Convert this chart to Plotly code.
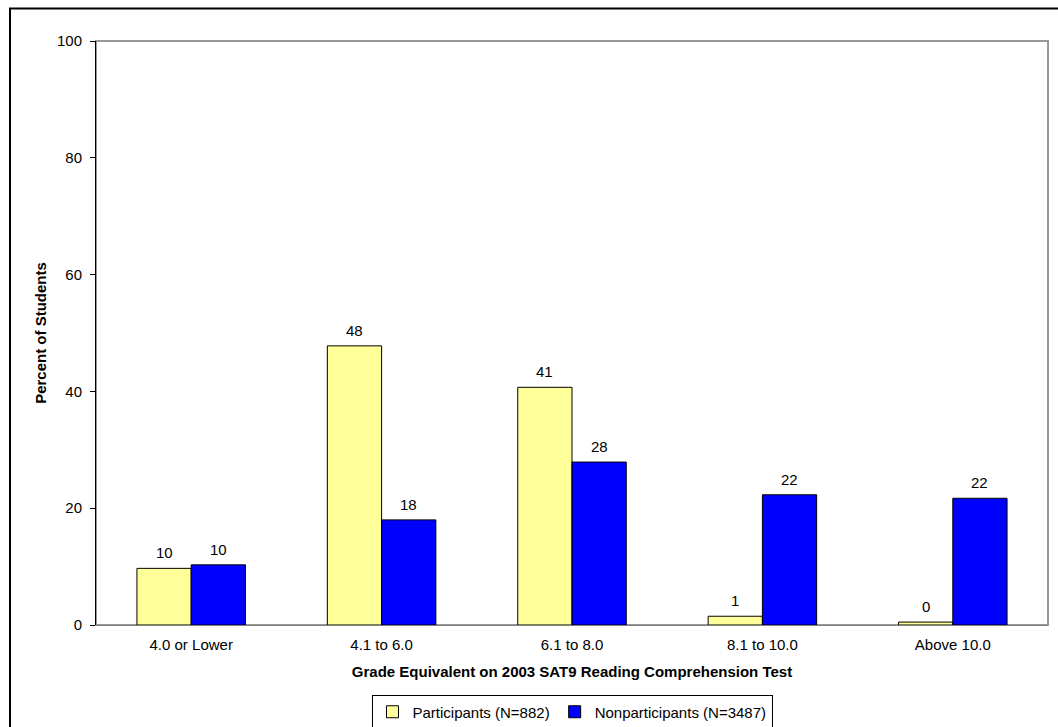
import plotly.graph_objects as go

categories = ["4.0 or Lower", "4.1 to 6.0", "6.1 to 8.0", "8.1 to 10.0", "Above 10.0"]
participants = [9.7, 47.8, 40.7, 1.5, 0.5]
nonparticipants = [10.3, 18.0, 27.9, 22.3, 21.7]
participant_labels = ["10", "48", "41", "1", "0"]
nonparticipant_labels = ["10", "18", "28", "22", "22"]
series_names = ["Participants (N=882)", "Nonparticipants (N=3487)"]
y_ticks = [0, 20, 40, 60, 80, 100]

FONT = "Liberation Sans, Arial, sans-serif"
FS = 15
W, H = 1058, 727
L, R, T, B = 96, 10, 41, 102
pw, ph = W - L - R, H - T - B

fig = go.Figure()
fig.add_trace(go.Bar(x=categories, y=participants, name=series_names[0],
                     marker=dict(color="#FFFF99", line=dict(color="black", width=1))))
fig.add_trace(go.Bar(x=categories, y=nonparticipants, name=series_names[1],
                     marker=dict(color="#0000FF", line=dict(color="black", width=1))))

bargap = 0.43
bar_px = pw / len(categories) * (1 - bargap) / 2
for vals, labs, sign in [(participants, participant_labels, -1), (nonparticipants, nonparticipant_labels, 1)]:
    for c, v, lab in zip(categories, vals, labs):
        fig.add_annotation(x=c, y=v, xref="x", yref="y", text=lab, showarrow=False,
                           xshift=sign * bar_px / 2, yshift=5, yanchor="bottom",
                           font=dict(family=FONT, size=FS, color="black"))

# plot area border (gray)
fig.add_shape(type="rect", xref="paper", yref="paper", x0=0, y0=0, x1=1, y1=1,
              line=dict(color="#999999", width=2), layer="below")
# outer chart frame
fig.add_shape(type="rect", xref="paper", yref="paper",
              x0=(10 - L) / pw, x1=(W + 5 - L) / pw,
              y0=-(H + 5 - (T + ph)) / ph, y1=1 + (T - 8.5) / ph,
              line=dict(color="black", width=2))

fig.update_layout(
    width=W, height=H,
    margin=dict(l=L, r=R, t=T, b=B, autoexpand=False),
    paper_bgcolor="white", plot_bgcolor="white",
    barmode="group", bargap=bargap, bargroupgap=0,
    font=dict(family=FONT, size=FS, color="black"),
    showlegend=True,
    legend=dict(orientation="h", x=0.5, xanchor="center", y=-(712 - (T + ph)) / ph, yanchor="middle",
                bordercolor="black", borderwidth=1, font=dict(size=FS, family=FONT),
                itemwidth=30, tracegroupgap=0),
    xaxis=dict(showline=True, linecolor="#808080", linewidth=1, ticks="outside", ticklen=6,
               tickcolor="rgba(0,0,0,0)", showgrid=False,
               tickfont=dict(size=FS),
               title=dict(text="<b>Grade Equivalent on 2003 SAT9 Reading Comprehension Test</b>",
                          font=dict(size=FS), standoff=14)),
    yaxis=dict(range=[0, 100], tickvals=y_ticks, showline=True, linecolor="black", linewidth=1,
               ticks="outside", ticklen=5, tickcolor="black", showgrid=False, zeroline=False,
               tickfont=dict(size=FS), ticklabelstandoff=5,
               title=dict(text="<b>Percent of Students</b>", font=dict(size=FS), standoff=6)),
)

fig.write_html("out.html", config={"displayModeBar": False},
               post_script="document.body.style.margin='0';")
